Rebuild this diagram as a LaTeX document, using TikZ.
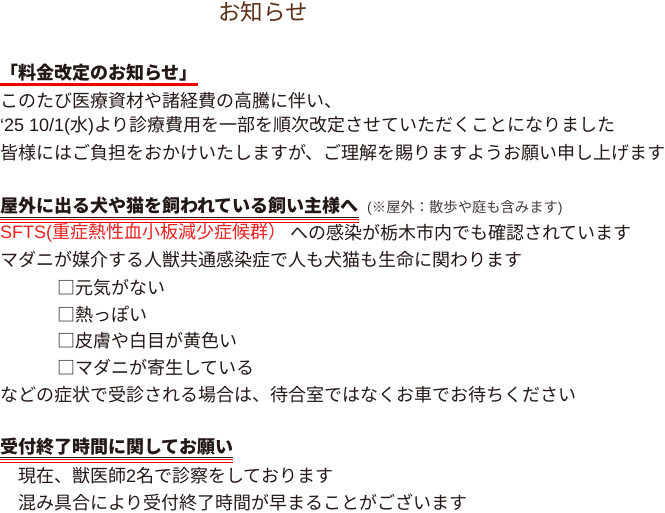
\documentclass[tikz,border=0pt]{standalone}
\usepackage{fontspec}
\setmainfont{Noto Sans CJK JP}
\newfontfamily\lat{Liberation Sans}
\definecolor{ink}{HTML}{231815}
\definecolor{titlebrown}{HTML}{5A2E14}
\definecolor{alertred}{HTML}{F01E1E}
\definecolor{rulered}{HTML}{F00000}
\begin{document}
\begin{tikzpicture}[x=1pt,y=-1pt,
  txt/.style={anchor=west,inner sep=0pt,text=ink,font=\fontsize{18}{20}\selectfont},
  head/.style={txt,font=\fontsize{18}{20}\selectfont\bfseries},
  note/.style={anchor=west,inner sep=0pt,text=ink!85,font=\fontsize{14.3}{16}\selectfont},
  titletxt/.style={inner sep=0pt,text=titlebrown,font=\fontsize{22.5}{26}\selectfont},
  blackrule/.style={draw=ink,line width=0.9pt},
  redrule/.style={draw=rulered,line width=1.4pt},
  redthick/.style={draw=rulered,line width=2.2pt}]
\useasboundingbox (0,0) rectangle (665,513);
\node[titletxt] (title) at (263,12) {お知らせ};
\node[head] (h1) at (0,73) {「料金改定のお知らせ」};
\coordinate (r1) at (0,84.5);
\draw[redthick] (r1) -- (h1.east |- r1);
\node[txt] (l1) at (0,101) {このたび医療資材や諸経費の高騰に伴い、};
\node[txt] (l2) at (0,126) {{\lat ‘25 10/1(}水{\lat )}より診療費用を一部を順次改定させていただくことになりました};
\node[txt] (l3) at (0,153) {皆様にはご負担をおかけいたしますが、ご理解を賜りますようお願い申し上げます};
\node[head] (h2) at (0,206) {屋外に出る犬や猫を飼われている飼い主様へ};
\node[note] (n2) at (367,208) {{\lat (}※屋外：散歩や庭も含みます{\lat )}};
\coordinate (b2) at (0,217.3);
\coordinate (r2a) at (0,219.6);
\coordinate (r2b) at (0,222.4);
\draw[blackrule] (b2) -- (h2.east |- b2);
\draw[redrule] (r2a) -- (h2.east |- r2a);
\draw[redrule] (r2b) -- (h2.east |- r2b);
\node[txt,text=alertred] (sfts) at (0,233) {{\lat SFTS(}重症熱性血小板減少症候群）};
\node[txt] (s2) at (290,233) {への感染が栃木市内でも確認されています};
\node[txt] (l5) at (0,260) {マダニが媒介する人獣共通感染症で人も犬猫も生命に関わります};
\node[txt] (c1) at (57,288) {□元気がない};
\node[txt] (c2) at (57,314.5) {□熱っぽい};
\node[txt] (c3) at (57,341) {□皮膚や白目が黄色い};
\node[txt] (c4) at (57,368) {□マダニが寄生している};
\node[txt] (l6) at (0,395) {などの症状で受診される場合は、待合室ではなくお車でお待ちください};
\node[head] (h3) at (0,447) {受付終了時間に関してお願い};
\coordinate (b3) at (0,457.3);
\coordinate (r3a) at (0,459.6);
\coordinate (r3b) at (0,462.4);
\draw[blackrule] (b3) -- (h3.east |- b3);
\draw[redrule] (r3a) -- (h3.east |- r3a);
\draw[redrule] (r3b) -- (h3.east |- r3b);
\node[txt] (l7) at (18,476) {現在、獣医師{\lat 2}名で診察をしております};
\node[txt] (l8) at (18,503) {混み具合により受付終了時間が早まることがございます};
\end{tikzpicture}
\end{document}
